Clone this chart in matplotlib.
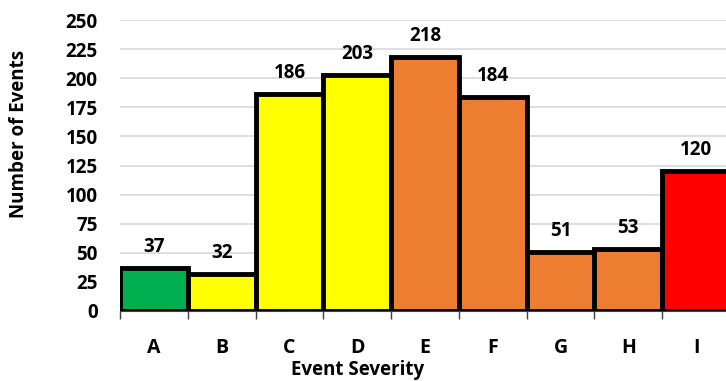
import matplotlib.pyplot as plt

# event counts per severity class
severity = ['A', 'B', 'C', 'D', 'E', 'F', 'G', 'H', 'I']
counts = [37, 32, 186, 203, 218, 184, 51, 53, 120]
colors = ['#00B050', '#FFFF00', '#FFFF00', '#FFFF00', '#ED7D31',
          '#ED7D31', '#ED7D31', '#ED7D31', '#FF0000']
yticks = [0, 25, 50, 75, 100, 125, 150, 175, 200, 225, 250]

plt.rcParams['font.family'] = ['Open Sans', 'DejaVu Sans']
plt.rcParams['font.weight'] = 'bold'

fig = plt.figure(figsize=(7.26, 3.81), dpi=100)
ax = fig.add_axes([120 / 726, 70 / 381, 610 / 726, 291 / 381])

x = list(range(len(severity)))
ax.bar(x, counts, width=1.0, color=colors, edgecolor='black', linewidth=3.5, zorder=3)

for xi, v in zip(x, counts):
    ax.annotate(str(v), (xi, v), xytext=(0, 8), textcoords='offset points',
                ha='center', va='bottom', fontsize=13.5, fontweight='bold')

ax.set_xlim(-0.5, 8.5)
ax.set_ylim(0, 250)
ax.set_yticks(yticks)
ax.grid(axis='y', color='#d9d9d9', linewidth=1.2, zorder=0)

# ticks between bars, labels under bar centres
ax.set_xticks([i + 0.5 for i in range(-1, 9)], minor=True)
ax.set_xticks(x)
ax.set_xticklabels(severity, fontsize=14, fontweight='bold')
ax.tick_params(axis='x', which='major', length=0, pad=19.5)
ax.tick_params(axis='x', which='minor', length=6, width=1, color='#404040')
ax.tick_params(axis='y', length=0, pad=16, labelsize=13.5)

for s in ['left', 'right', 'top']:
    ax.spines[s].set_visible(False)
ax.spines['bottom'].set_color('#404040')

ax.set_ylabel('Number of Events', fontsize=13.5, fontweight='bold', va='center')
ax.yaxis.set_label_coords(-0.166, 0.608)
ax.set_xlabel('Event Severity', fontsize=13.5, fontweight='bold', va='center')
ax.xaxis.set_label_coords(0.389, -0.203)

fig.savefig('out.png', dpi=100)
